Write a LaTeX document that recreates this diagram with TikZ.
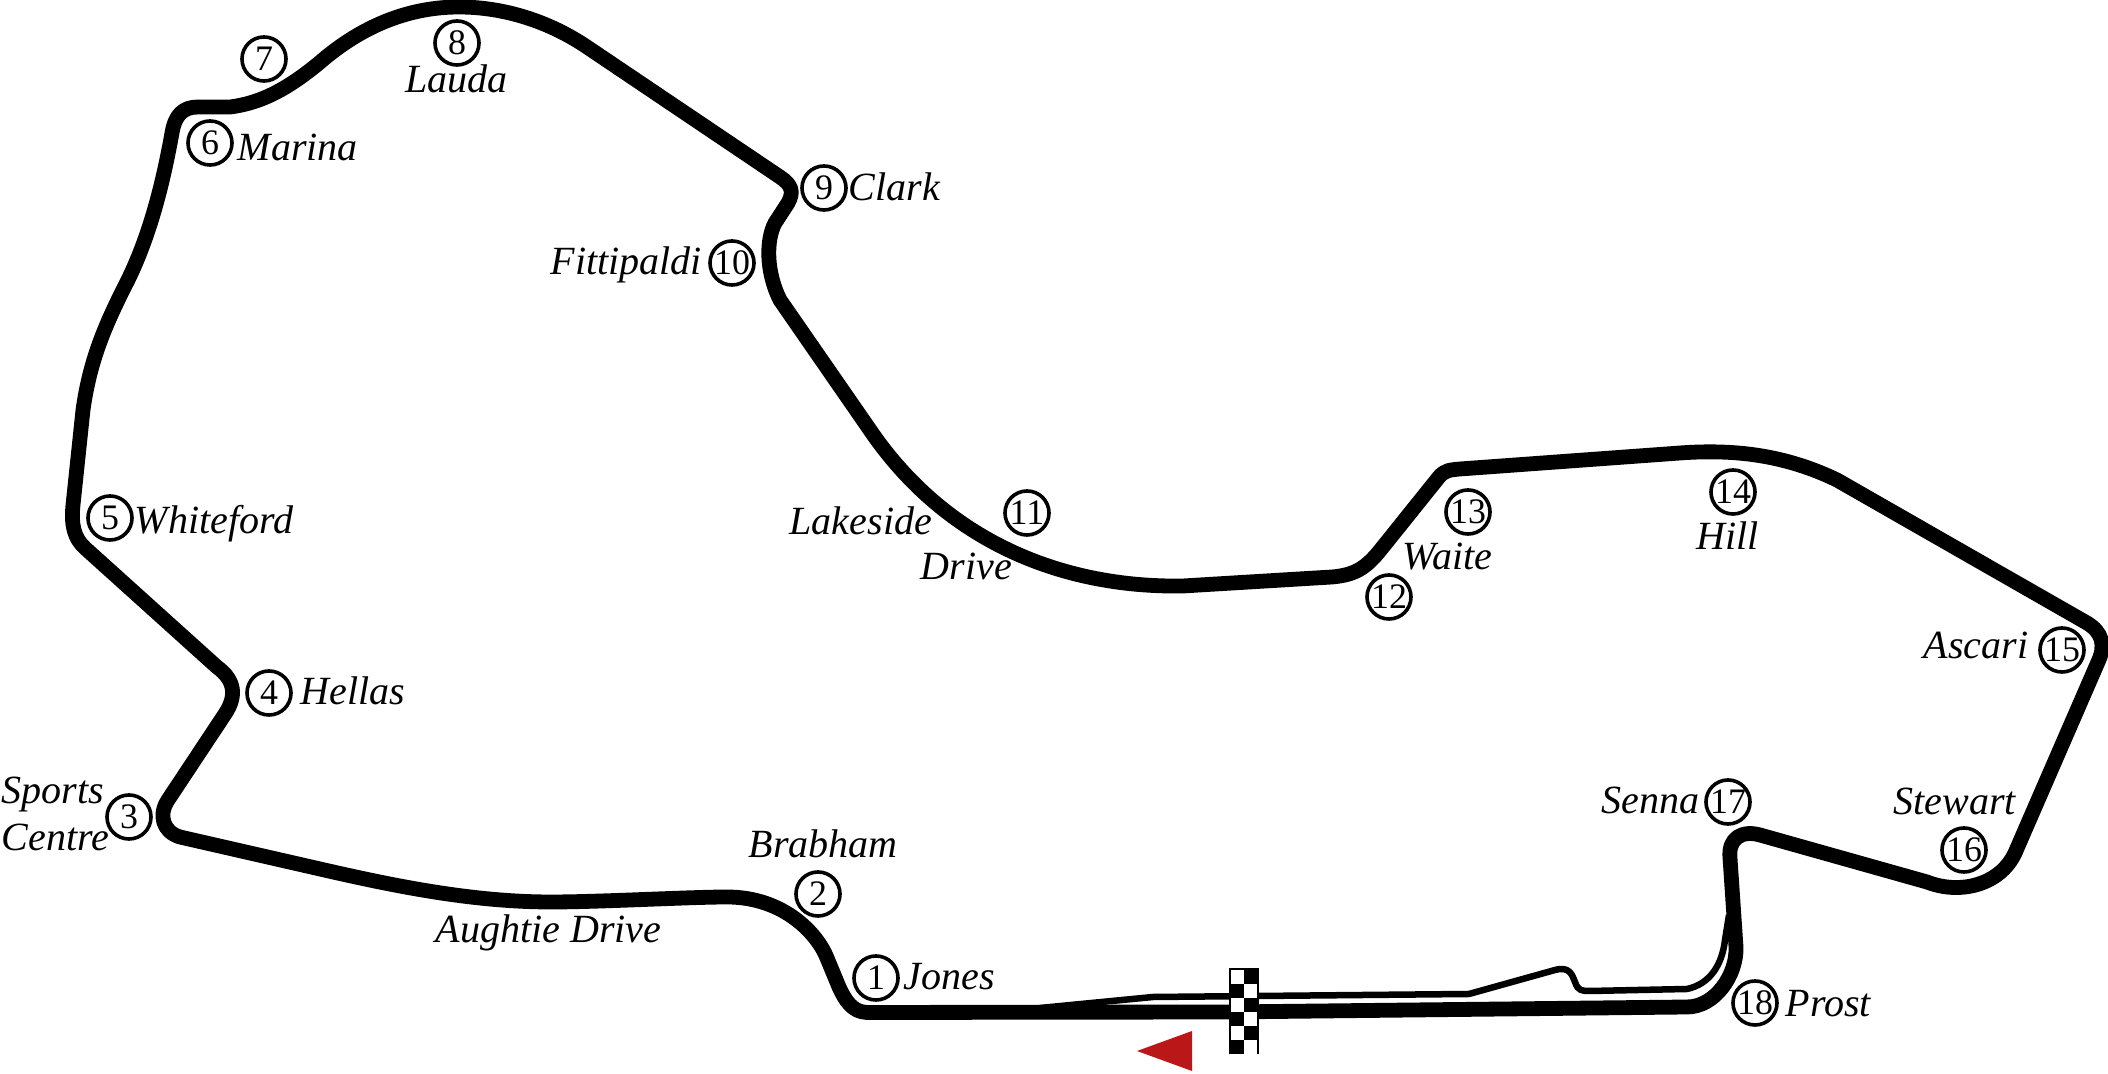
\documentclass[tikz,border=0pt]{standalone}
\usepackage{fontspec}
\setmainfont{Liberation Serif}
\definecolor{arrowred}{RGB}{186,24,24}
\tikzset{
  track/.style={line width=0.148cm, line join=round},
  pitlane/.style={line width=0.065cm, line join=round},
  turn/.style={circle, draw, line width=0.036cm, minimum size=0.44cm, inner sep=0pt, yshift=-0.01cm, font=\fontsize{10.2}{10}\selectfont},
  turnname/.style={anchor=base west, inner sep=0pt, yshift=-0.01cm, font=\fontsize{11.38}{12}\selectfont\itshape},
}
\begin{document}
\begin{tikzpicture}[x=0.01cm, y=-0.01cm]
      \useasboundingbox (0,0) rectangle (2108,1074);
      \draw[track]
        (1687,1007) -- (1229,1012) -- (867,1012.5)
        .. controls (852,1012) and (845,1000) .. (839,987)
        -- (827,958)
        .. controls (818,935) and (785,897) .. (727,897)
        .. controls (690,897) and (600,902) .. (551,902)
        .. controls (470,902) and (390,885) .. (320,869)
        -- (180,837)
        .. controls (163,832) and (158,815) .. (168,800)
        -- (225,714)
        .. controls (237,696) and (235,680) .. (217,667)
        -- (85,548)
        .. controls (74,538) and (71,525) .. (73,505)
        -- (83,410)
        .. controls (90,360) and (105,325) .. (128,280)
        .. controls (145,245) and (160,200) .. (172,133)
        .. controls (175,115) and (183,107) .. (198,107)
        -- (230,107)
        .. controls (262,103) and (290,88) .. (325,58)
        .. controls (365,25) and (410,7) .. (459,7)
        .. controls (505,7) and (550,22) .. (587,47)
        -- (780,177)
        .. controls (792,185) and (794,192) .. (788,203)
        -- (775,223)
        .. controls (766,240) and (766,272) .. (780,300)
        -- (870,430)
        .. controls (945,540) and (1060,588) .. (1183,586)
        -- (1332,577)
        .. controls (1355,575) and (1365,568) .. (1378,553)
        -- (1439,477)
        .. controls (1445,470) and (1450,470) .. (1460,469)
        -- (1680,453)
        .. controls (1735,449) and (1785,455) .. (1837,480)
        -- (2087,623)
        .. controls (2102,632) and (2106,645) .. (2098,662)
        -- (2015,853)
        .. controls (2000,885) and (1960,895) .. (1927,882)
        -- (1760,835)
        .. controls (1742,830) and (1728,838) .. (1730,858)
        -- (1736,947)
        .. controls (1737,975) and (1715,1007) .. (1687,1007)
        -- cycle;
      \draw[pitlane] (1040,1008) -- (1153,997) -- (1469,994) -- (1555,970)
        .. controls (1570,966) and (1572,975) .. (1575,982)
        .. controls (1578,991) and (1582,991) .. (1590,991)
        -- (1687,989)
        .. controls (1710,984) and (1722,965) .. (1725,940)
        -- (1729,915);
      % start line
      \fill (1229,968) rectangle (1259,1054);
      \foreach \row/\col in {0/0, 1/1, 2/0, 3/1, 4/0, 5/1}
        \fill[white] ({1231+13*\col},{970+14*\row}) rectangle ++(13,14);
      % direction of travel
      \fill[arrowred] (1137,1051) -- (1192,1031) -- (1192,1071) -- cycle;
      \draw
        (876,977) node[turn] (t1){1}
        (818,893) node[turn] (t2){2}
        (129,816) node[turn] (t3){3}
        (269,692) node[turn] (t4){4}
        (110,517) node[turn] (t5){5}
        (210,142) node[turn] (t6){6}
        (264,58) node[turn] (t7){7}
        (457,42) node[turn] (t8){8}
        (824,187) node[turn] (t9){9}
        (732,262) node[turn] (t10){10}
        (1027,512) node[turn] (t11){11}
        (1389,596) node[turn] (t12){12}
        (1468,511) node[turn] (t13){13}
        (1733,491) node[turn] (t14){14}
        (2062,649) node[turn] (t15){15}
        (1964,849) node[turn] (t16){16}
        (1728,801) node[turn] (t17){17}
        (1755,1002) node[turn] (t18){18};
      \path
        (903,989) node[turnname] (jones){Jones}
        (748,857) node[turnname] (brabham){Brabham}
        (435,942) node[turnname] (aughtie){Aughtie Drive}
        (1,803) node[turnname] (sports){Sports}
        (1,850) node[turnname] (centre){Centre}
        (300,704) node[turnname] (hellas){Hellas}
        (134,533) node[turnname] (whiteford){Whiteford}
        (237,160) node[turnname] (marina){Marina}
        (405,92) node[turnname] (lauda){Lauda}
        (848,200) node[turnname] (clark){Clark}
        (550,274) node[turnname] (fittipaldi){Fittipaldi}
        (789,534) node[turnname] (lakeside){Lakeside}
        (920,579) node[turnname] (drive){Drive}
        (1402,569) node[turnname] (waite){Waite}
        (1696,549) node[turnname] (hill){Hill}
        (1923,658) node[turnname] (ascari){Ascari}
        (1893,814) node[turnname] (stewart){Stewart}
        (1601,813) node[turnname] (senna){Senna}
        (1785,1016) node[turnname] (prost){Prost};
    \end{tikzpicture}
\end{document}
